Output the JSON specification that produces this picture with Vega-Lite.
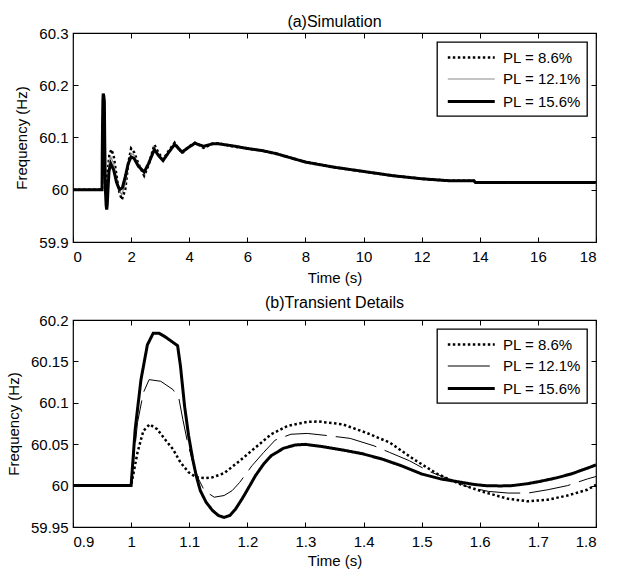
{
  "$schema": "https://vega.github.io/schema/vega-lite/v6.json",
  "padding": {"left": 5, "top": 13, "right": 4, "bottom": 4},
  "background": "white",
  "config": {
    "font": "Liberation Sans",
    "view": {"stroke": "black", "strokeWidth": 1.2},
    "axis": {
      "grid": false, "domain": false, "tickColor": "black", "tickSize": -5, "tickWidth": 1,
      "labelColor": "black", "labelFontSize": 15, "labelFont": "Liberation Sans",
      "titleColor": "black", "titleFontSize": 15, "titleFontWeight": "normal", "titleFont": "Liberation Sans"
    },
    "axisX": {"labelPadding": 12},
    "axisY": {"labelPadding": 10},
    "title": {"fontSize": 16, "fontWeight": "normal", "font": "Liberation Sans", "color": "black", "offset": -4},
    "legend": {
      "orient": "top-right", "offset": 9, "strokeColor": "black", "strokeWidth": 1.3, "fillColor": "white",
      "padding": 6, "cornerRadius": 0, "labelFontSize": 15, "labelFont": "Liberation Sans", "labelColor": "black",
      "symbolType": "M-0.6,0L5.4,0", "symbolSize": 245, "labelOffset": 41, "rowPadding": 4.5,
      "symbolStrokeColor": "black", "symbolFillColor": "transparent", "title": null
    }
  },
  "datasets": {
    "top": [
      {"s":"PL = 8.6%","t":0,"f":60},{"s":"PL = 8.6%","t":1.0,"f":60},{"s":"PL = 8.6%","t":1.011,"f":60.04},{"s":"PL = 8.6%","t":1.021,"f":60.066},{"s":"PL = 8.6%","t":1.032,"f":60.074},{"s":"PL = 8.6%","t":1.058,"f":60.056},{"s":"PL = 8.6%","t":1.085,"f":60.028},{"s":"PL = 8.6%","t":1.112,"f":60.01},{"s":"PL = 8.6%","t":1.13,"f":60.009},{"s":"PL = 8.6%","t":1.16,"f":60.015},{"s":"PL = 8.6%","t":1.2,"f":60.038},{"s":"PL = 8.6%","t":1.25,"f":60.066},{"s":"PL = 8.6%","t":1.32,"f":60.077},{"s":"PL = 8.6%","t":1.4,"f":60.065},{"s":"PL = 8.6%","t":1.49,"f":60.03},{"s":"PL = 8.6%","t":1.57,"f":60.0},{"s":"PL = 8.6%","t":1.68,"f":59.981},{"s":"PL = 8.6%","t":1.8,"f":60.001},{"s":"PL = 8.6%","t":1.9,"f":60.05},{"s":"PL = 8.6%","t":2.0,"f":60.079},{"s":"PL = 8.6%","t":2.1,"f":60.072},{"s":"PL = 8.6%","t":2.25,"f":60.05},{"s":"PL = 8.6%","t":2.45,"f":60.027},{"s":"PL = 8.6%","t":2.6,"f":60.047},{"s":"PL = 8.6%","t":2.8,"f":60.086},{"s":"PL = 8.6%","t":2.95,"f":60.07},{"s":"PL = 8.6%","t":3.1,"f":60.058},{"s":"PL = 8.6%","t":3.3,"f":60.075},{"s":"PL = 8.6%","t":3.5,"f":60.09},{"s":"PL = 8.6%","t":3.75,"f":60.07},{"s":"PL = 8.6%","t":4.0,"f":60.083},{"s":"PL = 8.6%","t":4.2,"f":60.09},{"s":"PL = 8.6%","t":4.5,"f":60.08},{"s":"PL = 8.6%","t":4.8,"f":60.088},{"s":"PL = 8.6%","t":5.0,"f":60.089},{"s":"PL = 8.6%","t":5.5,"f":60.083},{"s":"PL = 8.6%","t":6,"f":60.079},{"s":"PL = 8.6%","t":6.5,"f":60.075},{"s":"PL = 8.6%","t":7,"f":60.069},{"s":"PL = 8.6%","t":7.5,"f":60.061},{"s":"PL = 8.6%","t":8,"f":60.053},{"s":"PL = 8.6%","t":8.5,"f":60.048},{"s":"PL = 8.6%","t":9,"f":60.043},{"s":"PL = 8.6%","t":9.5,"f":60.039},{"s":"PL = 8.6%","t":10,"f":60.035},{"s":"PL = 8.6%","t":10.5,"f":60.031},{"s":"PL = 8.6%","t":11,"f":60.027},{"s":"PL = 8.6%","t":11.5,"f":60.024},{"s":"PL = 8.6%","t":12,"f":60.021},{"s":"PL = 8.6%","t":12.5,"f":60.019},{"s":"PL = 8.6%","t":13,"f":60.017},{"s":"PL = 8.6%","t":13.8,"f":60.017},{"s":"PL = 8.6%","t":13.85,"f":60.014},{"s":"PL = 8.6%","t":18,"f":60.014},

      {"s":"PL = 12.1%","t":0,"f":60},{"s":"PL = 12.1%","t":1.0,"f":60},{"s":"PL = 12.1%","t":1.011,"f":60.076},{"s":"PL = 12.1%","t":1.031,"f":60.128},{"s":"PL = 12.1%","t":1.051,"f":60.126},{"s":"PL = 12.1%","t":1.082,"f":60.106},{"s":"PL = 12.1%","t":1.096,"f":60.056},{"s":"PL = 12.1%","t":1.116,"f":60.008},{"s":"PL = 12.1%","t":1.143,"f":59.986},{"s":"PL = 12.1%","t":1.174,"f":59.994},{"s":"PL = 12.1%","t":1.208,"f":60.024},{"s":"PL = 12.1%","t":1.248,"f":60.055},{"s":"PL = 12.1%","t":1.3,"f":60.063},{"s":"PL = 12.1%","t":1.4,"f":60.05},{"s":"PL = 12.1%","t":1.5,"f":60.02},{"s":"PL = 12.1%","t":1.6,"f":59.996},{"s":"PL = 12.1%","t":1.68,"f":59.991},{"s":"PL = 12.1%","t":1.8,"f":60.011},{"s":"PL = 12.1%","t":1.9,"f":60.048},{"s":"PL = 12.1%","t":2.0,"f":60.07},{"s":"PL = 12.1%","t":2.1,"f":60.066},{"s":"PL = 12.1%","t":2.25,"f":60.048},{"s":"PL = 12.1%","t":2.45,"f":60.03},{"s":"PL = 12.1%","t":2.6,"f":60.048},{"s":"PL = 12.1%","t":2.8,"f":60.081},{"s":"PL = 12.1%","t":2.95,"f":60.067},{"s":"PL = 12.1%","t":3.1,"f":60.057},{"s":"PL = 12.1%","t":3.3,"f":60.073},{"s":"PL = 12.1%","t":3.5,"f":60.088},{"s":"PL = 12.1%","t":3.75,"f":60.071},{"s":"PL = 12.1%","t":4.0,"f":60.082},{"s":"PL = 12.1%","t":4.2,"f":60.09},{"s":"PL = 12.1%","t":4.5,"f":60.082},{"s":"PL = 12.1%","t":4.8,"f":60.088},{"s":"PL = 12.1%","t":5.0,"f":60.088},{"s":"PL = 12.1%","t":5.5,"f":60.084},{"s":"PL = 12.1%","t":6,"f":60.079},{"s":"PL = 12.1%","t":6.5,"f":60.075},{"s":"PL = 12.1%","t":7,"f":60.069},{"s":"PL = 12.1%","t":7.5,"f":60.061},{"s":"PL = 12.1%","t":8,"f":60.053},{"s":"PL = 12.1%","t":8.5,"f":60.048},{"s":"PL = 12.1%","t":9,"f":60.043},{"s":"PL = 12.1%","t":9.5,"f":60.039},{"s":"PL = 12.1%","t":10,"f":60.035},{"s":"PL = 12.1%","t":10.5,"f":60.031},{"s":"PL = 12.1%","t":11,"f":60.027},{"s":"PL = 12.1%","t":11.5,"f":60.024},{"s":"PL = 12.1%","t":12,"f":60.021},{"s":"PL = 12.1%","t":12.5,"f":60.019},{"s":"PL = 12.1%","t":13,"f":60.017},{"s":"PL = 12.1%","t":13.8,"f":60.017},{"s":"PL = 12.1%","t":13.85,"f":60.014},{"s":"PL = 12.1%","t":18,"f":60.014},

      {"s":"PL = 15.6%","t":0,"f":60},{"s":"PL = 15.6%","t":1.0,"f":60},{"s":"PL = 15.6%","t":1.007,"f":60.068},{"s":"PL = 15.6%","t":1.017,"f":60.128},{"s":"PL = 15.6%","t":1.028,"f":60.17},{"s":"PL = 15.6%","t":1.04,"f":60.184},{"s":"PL = 15.6%","t":1.06,"f":60.18},{"s":"PL = 15.6%","t":1.08,"f":60.169},{"s":"PL = 15.6%","t":1.092,"f":60.096},{"s":"PL = 15.6%","t":1.106,"f":60.032},{"s":"PL = 15.6%","t":1.12,"f":59.994},{"s":"PL = 15.6%","t":1.14,"f":59.97},{"s":"PL = 15.6%","t":1.16,"f":59.962},{"s":"PL = 15.6%","t":1.18,"f":59.972},{"s":"PL = 15.6%","t":1.2,"f":59.996},{"s":"PL = 15.6%","t":1.24,"f":60.036},{"s":"PL = 15.6%","t":1.3,"f":60.05},{"s":"PL = 15.6%","t":1.4,"f":60.038},{"s":"PL = 15.6%","t":1.5,"f":60.014},{"s":"PL = 15.6%","t":1.6,"f":60.0},{"s":"PL = 15.6%","t":1.7,"f":60.004},{"s":"PL = 15.6%","t":1.8,"f":60.025},{"s":"PL = 15.6%","t":1.9,"f":60.05},{"s":"PL = 15.6%","t":2.0,"f":60.063},{"s":"PL = 15.6%","t":2.1,"f":60.06},{"s":"PL = 15.6%","t":2.25,"f":60.045},{"s":"PL = 15.6%","t":2.45,"f":60.034},{"s":"PL = 15.6%","t":2.6,"f":60.05},{"s":"PL = 15.6%","t":2.8,"f":60.077},{"s":"PL = 15.6%","t":2.95,"f":60.065},{"s":"PL = 15.6%","t":3.1,"f":60.056},{"s":"PL = 15.6%","t":3.3,"f":60.072},{"s":"PL = 15.6%","t":3.5,"f":60.087},{"s":"PL = 15.6%","t":3.75,"f":60.072},{"s":"PL = 15.6%","t":4.0,"f":60.082},{"s":"PL = 15.6%","t":4.2,"f":60.089},{"s":"PL = 15.6%","t":4.5,"f":60.083},{"s":"PL = 15.6%","t":4.8,"f":60.088},{"s":"PL = 15.6%","t":5.0,"f":60.088},{"s":"PL = 15.6%","t":5.5,"f":60.084},{"s":"PL = 15.6%","t":6,"f":60.079},{"s":"PL = 15.6%","t":6.5,"f":60.075},{"s":"PL = 15.6%","t":7,"f":60.069},{"s":"PL = 15.6%","t":7.5,"f":60.061},{"s":"PL = 15.6%","t":8,"f":60.053},{"s":"PL = 15.6%","t":8.5,"f":60.048},{"s":"PL = 15.6%","t":9,"f":60.043},{"s":"PL = 15.6%","t":9.5,"f":60.039},{"s":"PL = 15.6%","t":10,"f":60.035},{"s":"PL = 15.6%","t":10.5,"f":60.031},{"s":"PL = 15.6%","t":11,"f":60.027},{"s":"PL = 15.6%","t":11.5,"f":60.024},{"s":"PL = 15.6%","t":12,"f":60.021},{"s":"PL = 15.6%","t":12.5,"f":60.019},{"s":"PL = 15.6%","t":13,"f":60.017},{"s":"PL = 15.6%","t":13.8,"f":60.017},{"s":"PL = 15.6%","t":13.85,"f":60.014},{"s":"PL = 15.6%","t":18,"f":60.014}
    ],
    "bottom": [
      {"s":"PL = 8.6%","t":0.9,"f":60},{"s":"PL = 8.6%","t":1.0,"f":60},{"s":"PL = 8.6%","t":1.011,"f":60.04},{"s":"PL = 8.6%","t":1.021,"f":60.066},{"s":"PL = 8.6%","t":1.032,"f":60.074},{"s":"PL = 8.6%","t":1.045,"f":60.068},{"s":"PL = 8.6%","t":1.058,"f":60.056},{"s":"PL = 8.6%","t":1.072,"f":60.044},{"s":"PL = 8.6%","t":1.085,"f":60.028},{"s":"PL = 8.6%","t":1.099,"f":60.016},{"s":"PL = 8.6%","t":1.112,"f":60.01},{"s":"PL = 8.6%","t":1.126,"f":60.009},{"s":"PL = 8.6%","t":1.14,"f":60.01},{"s":"PL = 8.6%","t":1.16,"f":60.015},{"s":"PL = 8.6%","t":1.187,"f":60.03},{"s":"PL = 8.6%","t":1.214,"f":60.046},{"s":"PL = 8.6%","t":1.241,"f":60.062},{"s":"PL = 8.6%","t":1.269,"f":60.072},{"s":"PL = 8.6%","t":1.303,"f":60.077},{"s":"PL = 8.6%","t":1.323,"f":60.0774},{"s":"PL = 8.6%","t":1.364,"f":60.074},{"s":"PL = 8.6%","t":1.404,"f":60.064},{"s":"PL = 8.6%","t":1.445,"f":60.052},{"s":"PL = 8.6%","t":1.486,"f":60.032},{"s":"PL = 8.6%","t":1.527,"f":60.014},{"s":"PL = 8.6%","t":1.567,"f":60.0016},{"s":"PL = 8.6%","t":1.608,"f":59.992},{"s":"PL = 8.6%","t":1.649,"f":59.984},{"s":"PL = 8.6%","t":1.683,"f":59.981},{"s":"PL = 8.6%","t":1.717,"f":59.983},{"s":"PL = 8.6%","t":1.751,"f":59.988},{"s":"PL = 8.6%","t":1.785,"f":59.995},{"s":"PL = 8.6%","t":1.8,"f":60.001},

      {"s":"PL = 12.1%","t":0.9,"f":60},{"s":"PL = 12.1%","t":1.0,"f":60},{"s":"PL = 12.1%","t":1.011,"f":60.076},{"s":"PL = 12.1%","t":1.021,"f":60.112},{"s":"PL = 12.1%","t":1.031,"f":60.128},{"s":"PL = 12.1%","t":1.051,"f":60.126},{"s":"PL = 12.1%","t":1.072,"f":60.116},{"s":"PL = 12.1%","t":1.082,"f":60.106},{"s":"PL = 12.1%","t":1.089,"f":60.08},{"s":"PL = 12.1%","t":1.096,"f":60.056},{"s":"PL = 12.1%","t":1.106,"f":60.028},{"s":"PL = 12.1%","t":1.116,"f":60.008},{"s":"PL = 12.1%","t":1.126,"f":59.994},{"s":"PL = 12.1%","t":1.143,"f":59.986},{"s":"PL = 12.1%","t":1.16,"f":59.988},{"s":"PL = 12.1%","t":1.174,"f":59.994},{"s":"PL = 12.1%","t":1.187,"f":60.004},{"s":"PL = 12.1%","t":1.208,"f":60.024},{"s":"PL = 12.1%","t":1.228,"f":60.04},{"s":"PL = 12.1%","t":1.248,"f":60.055},{"s":"PL = 12.1%","t":1.275,"f":60.062},{"s":"PL = 12.1%","t":1.303,"f":60.063},{"s":"PL = 12.1%","t":1.343,"f":60.06},{"s":"PL = 12.1%","t":1.377,"f":60.057},{"s":"PL = 12.1%","t":1.418,"f":60.048},{"s":"PL = 12.1%","t":1.445,"f":60.04},{"s":"PL = 12.1%","t":1.479,"f":60.03},{"s":"PL = 12.1%","t":1.513,"f":60.017},{"s":"PL = 12.1%","t":1.547,"f":60.008},{"s":"PL = 12.1%","t":1.581,"f":59.998},{"s":"PL = 12.1%","t":1.615,"f":59.993},{"s":"PL = 12.1%","t":1.649,"f":59.991},{"s":"PL = 12.1%","t":1.683,"f":59.991},{"s":"PL = 12.1%","t":1.717,"f":59.995},{"s":"PL = 12.1%","t":1.751,"f":60.0},{"s":"PL = 12.1%","t":1.785,"f":60.008},{"s":"PL = 12.1%","t":1.8,"f":60.011},

      {"s":"PL = 15.6%","t":0.9,"f":60},{"s":"PL = 15.6%","t":1.0,"f":60},{"s":"PL = 15.6%","t":1.007,"f":60.068},{"s":"PL = 15.6%","t":1.017,"f":60.128},{"s":"PL = 15.6%","t":1.028,"f":60.17},{"s":"PL = 15.6%","t":1.038,"f":60.184},{"s":"PL = 15.6%","t":1.048,"f":60.184},{"s":"PL = 15.6%","t":1.058,"f":60.18},{"s":"PL = 15.6%","t":1.068,"f":60.175},{"s":"PL = 15.6%","t":1.08,"f":60.169},{"s":"PL = 15.6%","t":1.085,"f":60.144},{"s":"PL = 15.6%","t":1.092,"f":60.096},{"s":"PL = 15.6%","t":1.099,"f":60.06},{"s":"PL = 15.6%","t":1.106,"f":60.032},{"s":"PL = 15.6%","t":1.112,"f":60.012},{"s":"PL = 15.6%","t":1.119,"f":59.994},{"s":"PL = 15.6%","t":1.129,"f":59.98},{"s":"PL = 15.6%","t":1.14,"f":59.97},{"s":"PL = 15.6%","t":1.15,"f":59.964},{"s":"PL = 15.6%","t":1.16,"f":59.9615},{"s":"PL = 15.6%","t":1.17,"f":59.964},{"s":"PL = 15.6%","t":1.18,"f":59.972},{"s":"PL = 15.6%","t":1.191,"f":59.984},{"s":"PL = 15.6%","t":1.201,"f":59.996},{"s":"PL = 15.6%","t":1.214,"f":60.012},{"s":"PL = 15.6%","t":1.228,"f":60.026},{"s":"PL = 15.6%","t":1.241,"f":60.036},{"s":"PL = 15.6%","t":1.262,"f":60.045},{"s":"PL = 15.6%","t":1.282,"f":60.049},{"s":"PL = 15.6%","t":1.3,"f":60.0498},{"s":"PL = 15.6%","t":1.33,"f":60.047},{"s":"PL = 15.6%","t":1.364,"f":60.043},{"s":"PL = 15.6%","t":1.398,"f":60.0385},{"s":"PL = 15.6%","t":1.432,"f":60.032},{"s":"PL = 15.6%","t":1.465,"f":60.024},{"s":"PL = 15.6%","t":1.5,"f":60.014},{"s":"PL = 15.6%","t":1.533,"f":60.008},{"s":"PL = 15.6%","t":1.56,"f":60.005},{"s":"PL = 15.6%","t":1.588,"f":60.0016},{"s":"PL = 15.6%","t":1.608,"f":60.0},{"s":"PL = 15.6%","t":1.635,"f":59.9996},{"s":"PL = 15.6%","t":1.656,"f":60.0},{"s":"PL = 15.6%","t":1.683,"f":60.0024},{"s":"PL = 15.6%","t":1.703,"f":60.005},{"s":"PL = 15.6%","t":1.73,"f":60.009},{"s":"PL = 15.6%","t":1.757,"f":60.014},{"s":"PL = 15.6%","t":1.785,"f":60.021},{"s":"PL = 15.6%","t":1.8,"f":60.025}
    ]
  },
  "spacing": 8,
  "resolve": {
    "scale": {"color": "independent", "strokeDash": "independent", "strokeWidth": "independent"},
    "legend": {"color": "independent", "strokeDash": "independent", "strokeWidth": "independent"}
  },
  "vconcat": [
    {
      "title": {"text": "(a)Simulation"},
      "width": 523, "height": 209,
      "data": {"name": "top"},
      "resolve": {"axis": {"x": "independent", "y": "independent"}},
      "layer": [
        {
          "mark": {"type": "line", "clip": true, "strokeCap": "butt"},
          "encoding": {
            "x": {"field": "t", "type": "quantitative", "scale": {"domain": [0, 18], "nice": false, "zero": false},
                  "axis": {"values": [0,2,4,6,8,10,12,14,16,18], "format": "~g", "title": "Time (s)", "titlePadding": 6}},
            "y": {"field": "f", "type": "quantitative", "scale": {"domain": [59.9, 60.3], "nice": false, "zero": false},
                  "axis": {"values": [59.9,60,60.1,60.2,60.3], "format": "~g", "title": "Frequency (Hz)", "titlePadding": 9}},
            "detail": {"field": "s"},
            "color": {"field": "s", "type": "nominal", "scale": {"domain": ["PL = 8.6%","PL = 12.1%","PL = 15.6%"], "range": ["black","#888888","black"]}, "legend": {"title": null}},
            "strokeDash": {"field": "s", "type": "nominal", "scale": {"domain": ["PL = 8.6%","PL = 12.1%","PL = 15.6%"], "range": [[2.5,2.5],[1,0],[1,0]]}, "legend": {"title": null}},
            "strokeWidth": {"field": "s", "type": "nominal", "scale": {"type": "ordinal", "domain": ["PL = 8.6%","PL = 12.1%","PL = 15.6%"], "range": [2.5,1.2,3]}, "legend": {"title": null}},
            "order": {"field": "t", "type": "quantitative"}
          }
        },
        {
          "mark": {"type": "line", "opacity": 0},
          "encoding": {
            "x": {"field": "t", "type": "quantitative", "scale": {"domain": [0, 18], "nice": false, "zero": false},
                  "axis": {"orient": "top", "values": [0,2,4,6,8,10,12,14,16,18], "labels": false, "title": null}},
            "y": {"field": "f", "type": "quantitative", "scale": {"domain": [59.9, 60.3], "nice": false, "zero": false},
                  "axis": {"orient": "right", "values": [59.9,60,60.1,60.2,60.3], "labels": false, "title": null}},
            "detail": {"field": "s"}
          }
        }
      ]
    },
    {
      "title": {"text": "(b)Transient Details", "offset": 2},
      "width": 523, "height": 207,
      "data": {"name": "bottom"},
      "resolve": {"axis": {"x": "independent", "y": "independent"}},
      "layer": [
        {
          "mark": {"type": "line", "clip": true, "strokeCap": "butt"},
          "encoding": {
            "x": {"field": "t", "type": "quantitative", "scale": {"domain": [0.9, 1.8], "nice": false, "zero": false},
                  "axis": {"values": [0.9,1,1.1,1.2,1.3,1.4,1.5,1.6,1.7,1.8], "format": "~g", "title": "Time (s)", "titlePadding": 4}},
            "y": {"field": "f", "type": "quantitative", "scale": {"domain": [59.95, 60.2], "nice": false, "zero": false},
                  "axis": {"values": [59.95,60,60.05,60.1,60.15,60.2], "format": "~g", "title": "Frequency (Hz)", "titlePadding": 9}},
            "detail": {"field": "s"},
            "color": {"field": "s", "type": "nominal", "scale": {"domain": ["PL = 8.6%","PL = 12.1%","PL = 15.6%"], "range": ["black","black","black"]}, "legend": {"title": null}},
            "strokeDash": {"field": "s", "type": "nominal", "scale": {"domain": ["PL = 8.6%","PL = 12.1%","PL = 15.6%"], "range": [[2.5,2.5],[42,9],[1,0]]}, "legend": {"title": null}},
            "strokeWidth": {"field": "s", "type": "nominal", "scale": {"type": "ordinal", "domain": ["PL = 8.6%","PL = 12.1%","PL = 15.6%"], "range": [2.5,1,3]}, "legend": {"title": null}},
            "order": {"field": "t", "type": "quantitative"}
          }
        },
        {
          "mark": {"type": "line", "opacity": 0},
          "encoding": {
            "x": {"field": "t", "type": "quantitative", "scale": {"domain": [0.9, 1.8], "nice": false, "zero": false},
                  "axis": {"orient": "top", "values": [0.9,1,1.1,1.2,1.3,1.4,1.5,1.6,1.7,1.8], "labels": false, "title": null}},
            "y": {"field": "f", "type": "quantitative", "scale": {"domain": [59.95, 60.2], "nice": false, "zero": false},
                  "axis": {"orient": "right", "values": [59.95,60,60.05,60.1,60.15,60.2], "labels": false, "title": null}},
            "detail": {"field": "s"}
          }
        }
      ]
    }
  ]
}
